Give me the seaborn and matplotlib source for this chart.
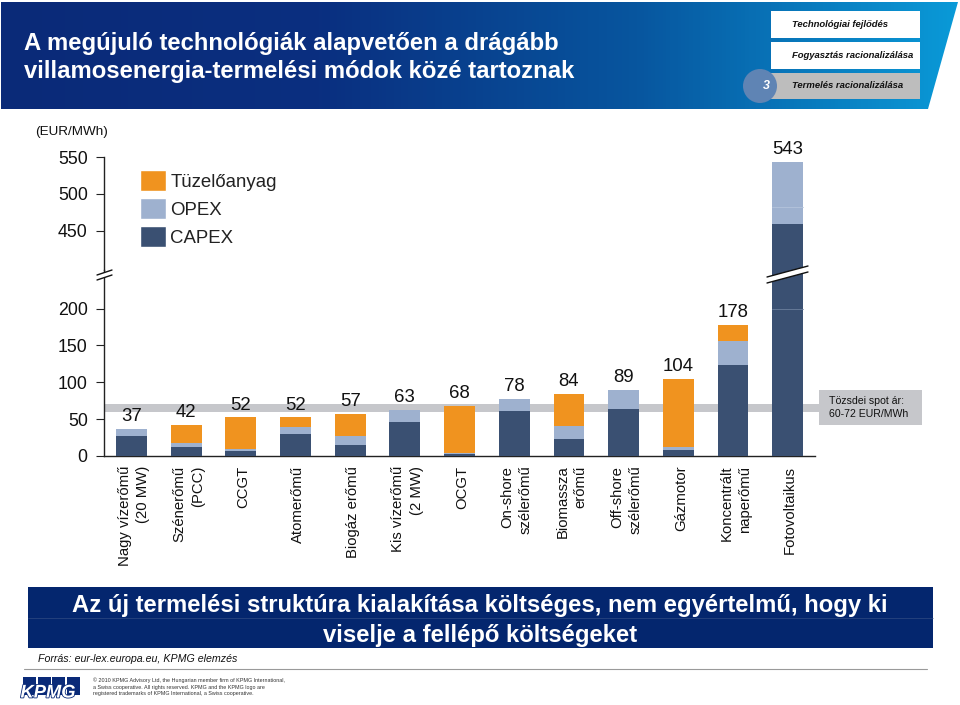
import matplotlib
matplotlib.use('Agg')
import matplotlib.pyplot as plt
import matplotlib.patheffects as pe
import numpy as np
import seaborn as sns
from matplotlib.colors import LinearSegmentedColormap
from matplotlib.patches import Circle, Patch, Polygon, Rectangle
from matplotlib.transforms import ScaledTranslation

# Data
categories = ['Nagy vízerőmű\n(20 MW)', 'Szénerőmű\n(PCC)', 'CCGT', 'Atomerőmű', 'Biogáz erőmű',
              'Kis vízerőmű\n(2 MW)', 'OCGT', 'On-shore\nszélerőmű', 'Biomassza\nerőmű',
              'Off-shore\nszélerőmű', 'Gázmotor', 'Koncentrált\nnaperőmű', 'Fotovoltaikus']
capex = [26.7, 11.8, 6.3, 29.4, 14.5, 45.7, 2.7, 60.6, 22.6, 63.3, 7.7, 123, 459.5]
opex = [9.5, 6.2, 2.7, 10.4, 13.1, 17.3, 0.9, 17.4, 18.4, 25.7, 4.1, 33.6, 83.5]
fuel = [0, 23.6, 43.5, 12.7, 29.4, 0, 64.4, 0, 43, 0, 92.2, 21.4, 0]
totals = [37, 42, 52, 52, 57, 63, 68, 78, 84, 89, 104, 178, 543]
lower_ticks = [0, 50, 100, 150, 200]
upper_ticks = [450, 500, 550]
spot_band = (60, 71)

CAPEX_COLOR = '#3A5072'
OPEX_COLOR = '#9EB1CF'
FUEL_COLOR = '#F0931F'
BAND_COLOR = '#C6C7CB'
NAVY = '#04266E'

W, H = 960, 705
sns.set_style('white')
plt.rcParams['font.family'] = ['Liberation Sans', 'DejaVu Sans']

fig = plt.figure(figsize=(W / 100, H / 100), dpi=100, facecolor='white')


def pixel_axes(left, top, right, bottom, **kwargs):
    return fig.add_axes([left / W, 1 - bottom / H, (right - left) / W, (bottom - top) / H], **kwargs)


# Background and foreground layers in pixel coordinates
bg = pixel_axes(0, 0, W, H, zorder=0)
bg.set_xlim(0, W)
bg.set_ylim(H, 0)
bg.axis('off')
fg = pixel_axes(0, 0, W, H, zorder=10)
fg.set_xlim(0, W)
fg.set_ylim(H, 0)
fg.axis('off')
fg.patch.set_alpha(0)

# Header
cmap = LinearSegmentedColormap.from_list('hdr', ['#0A2A78', '#0A2F80', '#07569F', '#0A9AD8'])
img = bg.imshow(np.linspace(0, 1, 256).reshape(1, -1), extent=(1, 958, 109, 2), cmap=cmap, aspect='auto')
img.set_clip_path(Polygon([(1, 2), (958, 2), (928, 109), (1, 109)], transform=bg.transData))
bg.set_xlim(0, W)
bg.set_ylim(H, 0)
bg.text(24, 57.5, 'A megújuló technológiák alapvetően a drágább\nvillamosenergia-termelési módok közé tartoznak',
        color='white', fontsize=17.2, fontweight='bold', va='center', linespacing=1.33)
for top, bottom, col, txt in [(11, 38, 'white', 'Technológiai fejlődés'),
                              (42, 69, 'white', 'Fogyasztás racionalizálása'),
                              (73, 99, '#BDBDBD', 'Termelés racionalizálása')]:
    bg.add_patch(Rectangle((771, top), 149, bottom - top, fc=col, ec='none', zorder=3))
    bg.text(792, (top + bottom) / 2, txt, fontsize=6.8, style='italic', fontweight='bold',
            va='center', color='#111111', zorder=5)
bg.add_patch(Circle((760, 86), 17, fc='#5F84B4', ec='none', zorder=4))
bg.text(766, 86, '3', color='white', fontsize=9, style='italic', fontweight='bold',
        ha='center', va='center', zorder=5)

# Chart panels
ax_low = pixel_axes(104.2, 270, 815, 456, zorder=2)
ax_up = pixel_axes(104.2, 157, 815, 270, zorder=2)
ax_low.patch.set_alpha(0)
ax_up.patch.set_alpha(0)

x = np.arange(len(categories))
bottom_opex = np.array(capex)
bottom_fuel = bottom_opex + np.array(opex)
bar_style = dict(width=0.565, saturation=1, zorder=3, linewidth=0, edgecolor='none')
for ax in (ax_low, ax_up):
    sns.barplot(x=x, y=capex, ax=ax, color=CAPEX_COLOR, **bar_style)
    sns.barplot(x=x, y=opex, bottom=bottom_opex, ax=ax, color=OPEX_COLOR, **bar_style)
    sns.barplot(x=x, y=fuel, bottom=bottom_fuel, ax=ax, color=FUEL_COLOR, **bar_style)
    ax.set_xlim(-0.5, 12.5)
    ax.tick_params(axis='y', length=5.5, width=0.8, color='#222222', labelsize=12.8, pad=6.4, labelcolor='#111111', left=True)
    for side in ('top', 'right'):
        ax.spines[side].set_visible(False)
    ax.spines['left'].set_color('#222222')
    ax.spines['left'].set_linewidth(1)

ax_low.set_ylim(0, (456 - 270) / 0.737)
ax_low.set_yticks(lower_ticks)
ax_low.spines['bottom'].set_color('#222222')
ax_low.spines['bottom'].set_linewidth(1)
ax_low.set_xticks(x)
ax_low.set_xticklabels(categories, rotation=90, ma='right', ha='center', va='top', fontsize=10.7,
                       color='#111111', linespacing=1.4)
ax_low.tick_params(axis='x', length=0, pad=7)
# nudge the rotated labels to the right, as in the original slide
label_shift = ScaledTranslation(2.5 / 100, 0, fig.dpi_scale_trans)
for label in ax_low.get_xticklabels():
    label.set_transform(label.get_transform() + label_shift)
ax_low.fill_between([-0.5, 12.58], spot_band[0], spot_band[1], color=BAND_COLOR, lw=0, zorder=1, clip_on=False)

ax_up.set_ylim(450 - (270 - 231) / 0.737, 550)
ax_up.set_yticks(upper_ticks)
ax_up.spines['bottom'].set_visible(False)
ax_up.set_xticks([])
ax_up.set_xlabel('')

# Faint seams inside the last bar
ax_low.plot([11.72, 12.28], [200, 200], color='#6C7F9C', lw=0.6, zorder=4)
ax_up.plot([11.72, 12.28], [483, 483], color='#B4C3DB', lw=0.6, zorder=4)

# Totals above the bars
for i, total in enumerate(totals):
    ax = ax_up if total > 400 else ax_low
    ax.annotate(str(total), (i, total), xytext=(0, 9), textcoords='offset points', ha='center',
                va='center', fontsize=13.4, color='#111111', zorder=6, annotation_clip=False)

# Unit and legend
bg.text(35, 132, '(EUR/MWh)', fontsize=9.7, color='#111111', va='center')
handles = [Patch(fc=FUEL_COLOR), Patch(fc=OPEX_COLOR), Patch(fc=CAPEX_COLOR)]
leg = ax_up.legend(handles, ['Tüzelőanyag', 'OPEX', 'CAPEX'], loc='upper left', frameon=False,
                   bbox_to_anchor=(35.8 / 710.8, 1 - 15 / 113), borderaxespad=0, borderpad=0,
                   fontsize=13.4, handlelength=1.4, handleheight=1.0, handletextpad=0.22,
                   labelspacing=0.5, labelcolor='#222222')
for patch in leg.get_patches():
    patch.set_height(15)
    patch.set_width(19)
    patch.set_y(-3)

# Axis breaks
for xs, ys_up, ys_low in [((97, 112), (275, 270), (280, 275)), ((767, 808), (277, 266), (283, 272))]:
    fg.add_patch(Polygon([(xs[0], ys_up[0]), (xs[1], ys_up[1]), (xs[1], ys_low[1]), (xs[0], ys_low[0])],
                         fc='white', ec='none'))
    fg.plot(xs, ys_up, color='#111111', lw=1)
    fg.plot(xs, ys_low, color='#111111', lw=1)

# Spot price box
bg.add_patch(Rectangle((819, 390), 103, 35, fc=BAND_COLOR, ec='none'))
bg.text(829, 407.5, 'Tözsdei spot ár:\n60-72 EUR/MWh', fontsize=7.6, color='#111111', va='center', linespacing=1.45)

# Conclusion banner
bg.add_patch(Rectangle((28, 587), 905, 61, fc=NAVY, ec='none'))
bg.plot([28, 933], [617.5, 617.5], color='#3A5488', lw=0.4)
bg.text(480, 620.5, 'Az új termelési struktúra kialakítása költséges, nem egyértelmű, hogy ki\nviselje a fellépő költségeket',
        color='white', fontsize=17.2, fontweight='bold', ha='center', va='center', linespacing=1.35)

# Source and footer
bg.text(38, 659.5, 'Forrás: eur-lex.europa.eu, KPMG elemzés', fontsize=7.7, style='italic', color='#111111', va='center')
bg.plot([24, 927], [669, 669], color='#9A9A9A', lw=0.8)
for i in range(4):
    bg.add_patch(Rectangle((23 + i * 14.5, 677), 13.2, 18, fc='#0A2A78', ec='none'))
bg.text(48, 693, 'KPMG', fontsize=13.2, style='italic', fontweight='bold', color='white', ha='center', va='center',
        path_effects=[pe.withStroke(linewidth=1.2, foreground='#0A2A78')])
bg.text(93, 687, '© 2010 KPMG Advisory Ltd, the Hungarian member firm of KPMG International,\n'
                 'a Swiss cooperative. All rights reserved. KPMG and the KPMG logo are\n'
                 'registered trademarks of KPMG International, a Swiss cooperative.',
        fontsize=3.9, color='#333333', va='center', linespacing=1.35)

fig.savefig('out.png', dpi=100)
